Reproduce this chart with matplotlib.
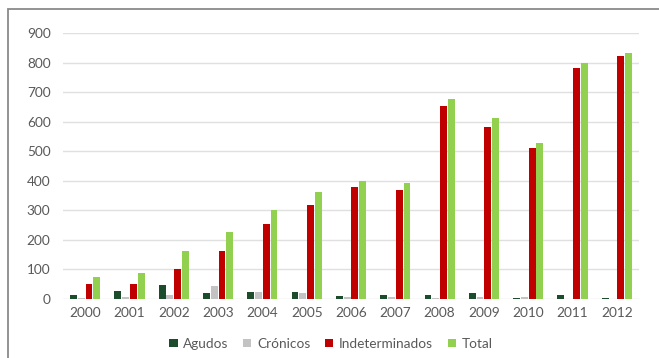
import matplotlib
matplotlib.use("Agg")
import matplotlib.pyplot as plt
from matplotlib.patches import Rectangle
import numpy as np

years = ["2000", "2001", "2002", "2003", "2004", "2005", "2006",
         "2007", "2008", "2009", "2010", "2011", "2012"]
agudos = [15, 27, 47, 20, 25, 25, 10, 12, 15, 20, 5, 15, 4]
cronicos = [3, 8, 15, 43, 25, 20, 8, 7, 3, 8, 8, 1, 1]
indeterminados = [50, 50, 102, 162, 253, 318, 380, 368, 654, 583, 511, 783, 823]
total = [73, 87, 162, 228, 300, 362, 400, 393, 677, 614, 528, 799, 831]

series = [
    ("Agudos", agudos, "#1b4d2c"),
    ("Crónicos", cronicos, "#c3c3c3"),
    ("Indeterminados", indeterminados, "#c00000"),
    ("Total", total, "#92d050"),
]

plt.rcParams["font.family"] = ["Lato", "DejaVu Sans"]

fig = plt.figure(figsize=(6.59, 3.58), dpi=100)
ax = fig.add_axes([63 / 659, 1 - 299 / 358, 576 / 659, 266 / 358])

x = np.arange(len(years))
step = 0.175
width = 0.155
for i, (name, vals, color) in enumerate(series):
    ax.bar(x + (i - 1.5) * step, vals, width=width, color=color, label=name,
           zorder=3)

ax.set_xlim(-0.5, len(years) - 0.5)
ax.set_ylim(0, 900)
ax.set_yticks(range(0, 901, 100))
ax.set_xticks(x)
ax.set_xticklabels(years)
ax.yaxis.grid(True, color="#e0e0e0", lw=1, zorder=0)
for s in ax.spines.values():
    s.set_visible(False)
ax.tick_params(length=0, colors="#595959", labelsize=9.8)
ax.tick_params(axis="x", pad=6)
ax.tick_params(axis="y", pad=9)

ax.legend(loc="upper center", bbox_to_anchor=(0.465, -0.1), ncol=4,
          frameon=False, fontsize=9.8, handlelength=0.6, handleheight=0.6,
          handletextpad=0.4, columnspacing=1.1, labelcolor="#595959")

# outer frame, open on the right and bottom edges
fig.patches.append(Rectangle((8 / 659, -0.05), 1.0, 1 - 9 / 358 + 0.05,
                             transform=fig.transFigure, fill=False,
                             edgecolor="#8a8a8a", lw=1.3))

fig.savefig("out.png", dpi=100)
